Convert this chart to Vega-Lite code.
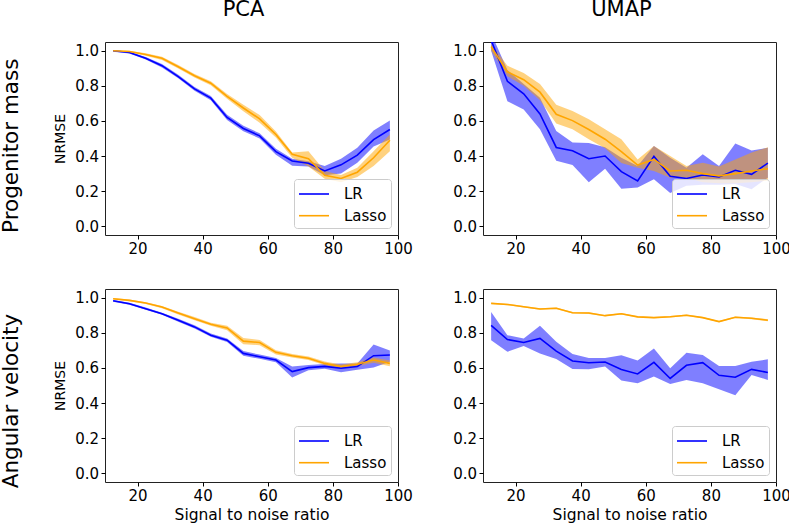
{
"$schema": "https://vega.github.io/schema/vega-lite/v6.json",
"padding": {"left": 0, "top": -2, "right": 0, "bottom": 0},
"background": "white",
"config": {
  "font": "DejaVu Sans",
  "view": {"stroke": "#222", "strokeWidth": 1},
  "axis": {"domain": false, "grid": false, "tickColor": "#000", "tickSize": 4, "tickWidth": 1, "labelColor": "#000", "labelFontSize": 15, "labelFont": "DejaVu Sans", "titleFont": "DejaVu Sans", "titleFontWeight": "normal", "titleColor": "#000", "labelPadding": 2.5, "labelFlush": false, "labelOverlap": false, "labelBound": false, "tickCount": 12},
  "axisY": {"titleFontSize": 14, "titlePadding": 7},
  "axisX": {"titleFontSize": 15.5, "titlePadding": 4},
  "legend": {"orient": "bottom-right", "offset": 7, "padding": 4, "strokeColor": "#cccccc", "fillColor": "rgba(255,255,255,0.8)", "cornerRadius": 3, "symbolType": "M-1,0H2", "symbolSize": 400, "symbolStrokeWidth": 1.6, "labelFontSize": 15, "labelFont": "DejaVu Sans", "labelColor": "#000", "labelOffset": 24, "rowPadding": 2.7, "title": null},
  "title": {"font": "DejaVu Sans", "fontSize": 21, "fontWeight": "normal", "color": "#000"}
},
"data": {"values": [
{"r":"P","c":"PCA","m":"LR","x":12.5,"v":1.0,"lo":0.995,"hi":1.003},
{"r":"P","c":"PCA","m":"LR","x":17.5,"v":0.99,"lo":0.985,"hi":0.995},
{"r":"P","c":"PCA","m":"LR","x":22.5,"v":0.957,"lo":0.95,"hi":0.964},
{"r":"P","c":"PCA","m":"LR","x":27.5,"v":0.915,"lo":0.905,"hi":0.925},
{"r":"P","c":"PCA","m":"LR","x":32.5,"v":0.853,"lo":0.843,"hi":0.863},
{"r":"P","c":"PCA","m":"LR","x":37.5,"v":0.783,"lo":0.772,"hi":0.794},
{"r":"P","c":"PCA","m":"LR","x":42.5,"v":0.73,"lo":0.718,"hi":0.742},
{"r":"P","c":"PCA","m":"LR","x":47.5,"v":0.62,"lo":0.605,"hi":0.635},
{"r":"P","c":"PCA","m":"LR","x":52.5,"v":0.557,"lo":0.542,"hi":0.572},
{"r":"P","c":"PCA","m":"LR","x":57.5,"v":0.515,"lo":0.5,"hi":0.53},
{"r":"P","c":"PCA","m":"LR","x":62.5,"v":0.425,"lo":0.408,"hi":0.442},
{"r":"P","c":"PCA","m":"LR","x":67.5,"v":0.372,"lo":0.345,"hi":0.385},
{"r":"P","c":"PCA","m":"LR","x":72.5,"v":0.359,"lo":0.34,"hi":0.37},
{"r":"P","c":"PCA","m":"LR","x":77.5,"v":0.315,"lo":0.29,"hi":0.343},
{"r":"P","c":"PCA","m":"LR","x":82.5,"v":0.35,"lo":0.3,"hi":0.385},
{"r":"P","c":"PCA","m":"LR","x":87.5,"v":0.405,"lo":0.362,"hi":0.447},
{"r":"P","c":"PCA","m":"LR","x":92.5,"v":0.494,"lo":0.455,"hi":0.545},
{"r":"P","c":"PCA","m":"LR","x":97.5,"v":0.551,"lo":0.495,"hi":0.602},
{"r":"P","c":"PCA","m":"Lasso","x":12.5,"v":1.0,"lo":0.997,"hi":1.003},
{"r":"P","c":"PCA","m":"Lasso","x":17.5,"v":0.996,"lo":0.992,"hi":1.0},
{"r":"P","c":"PCA","m":"Lasso","x":22.5,"v":0.979,"lo":0.972,"hi":0.986},
{"r":"P","c":"PCA","m":"Lasso","x":27.5,"v":0.957,"lo":0.948,"hi":0.966},
{"r":"P","c":"PCA","m":"Lasso","x":32.5,"v":0.909,"lo":0.899,"hi":0.919},
{"r":"P","c":"PCA","m":"Lasso","x":37.5,"v":0.858,"lo":0.848,"hi":0.868},
{"r":"P","c":"PCA","m":"Lasso","x":42.5,"v":0.815,"lo":0.803,"hi":0.827},
{"r":"P","c":"PCA","m":"Lasso","x":47.5,"v":0.74,"lo":0.726,"hi":0.754},
{"r":"P","c":"PCA","m":"Lasso","x":52.5,"v":0.674,"lo":0.655,"hi":0.693},
{"r":"P","c":"PCA","m":"Lasso","x":57.5,"v":0.612,"lo":0.59,"hi":0.634},
{"r":"P","c":"PCA","m":"Lasso","x":62.5,"v":0.523,"lo":0.505,"hi":0.54},
{"r":"P","c":"PCA","m":"Lasso","x":67.5,"v":0.41,"lo":0.39,"hi":0.42},
{"r":"P","c":"PCA","m":"Lasso","x":72.5,"v":0.385,"lo":0.34,"hi":0.428},
{"r":"P","c":"PCA","m":"Lasso","x":77.5,"v":0.29,"lo":0.27,"hi":0.315},
{"r":"P","c":"PCA","m":"Lasso","x":82.5,"v":0.272,"lo":0.251,"hi":0.292},
{"r":"P","c":"PCA","m":"Lasso","x":87.5,"v":0.308,"lo":0.28,"hi":0.334},
{"r":"P","c":"PCA","m":"Lasso","x":92.5,"v":0.39,"lo":0.343,"hi":0.428},
{"r":"P","c":"PCA","m":"Lasso","x":97.5,"v":0.49,"lo":0.428,"hi":0.523},
{"r":"P","c":"UMAP","m":"LR","x":12.5,"v":1.06,"lo":1.0,"hi":1.1},
{"r":"P","c":"UMAP","m":"LR","x":17.5,"v":0.826,"lo":0.713,"hi":0.89},
{"r":"P","c":"UMAP","m":"LR","x":22.5,"v":0.755,"lo":0.666,"hi":0.81},
{"r":"P","c":"UMAP","m":"LR","x":27.5,"v":0.64,"lo":0.553,"hi":0.732},
{"r":"P","c":"UMAP","m":"LR","x":32.5,"v":0.449,"lo":0.373,"hi":0.543},
{"r":"P","c":"UMAP","m":"LR","x":37.5,"v":0.43,"lo":0.349,"hi":0.477},
{"r":"P","c":"UMAP","m":"LR","x":42.5,"v":0.385,"lo":0.251,"hi":0.474},
{"r":"P","c":"UMAP","m":"LR","x":47.5,"v":0.4,"lo":0.327,"hi":0.45},
{"r":"P","c":"UMAP","m":"LR","x":52.5,"v":0.311,"lo":0.213,"hi":0.39},
{"r":"P","c":"UMAP","m":"LR","x":57.5,"v":0.258,"lo":0.221,"hi":0.343},
{"r":"P","c":"UMAP","m":"LR","x":62.5,"v":0.398,"lo":0.268,"hi":0.457},
{"r":"P","c":"UMAP","m":"LR","x":67.5,"v":0.285,"lo":0.19,"hi":0.39},
{"r":"P","c":"UMAP","m":"LR","x":72.5,"v":0.272,"lo":0.23,"hi":0.334},
{"r":"P","c":"UMAP","m":"LR","x":77.5,"v":0.292,"lo":0.236,"hi":0.41},
{"r":"P","c":"UMAP","m":"LR","x":82.5,"v":0.281,"lo":0.236,"hi":0.343},
{"r":"P","c":"UMAP","m":"LR","x":87.5,"v":0.319,"lo":0.24,"hi":0.472},
{"r":"P","c":"UMAP","m":"LR","x":92.5,"v":0.296,"lo":0.211,"hi":0.432},
{"r":"P","c":"UMAP","m":"LR","x":97.5,"v":0.36,"lo":0.277,"hi":0.447},
{"r":"P","c":"UMAP","m":"Lasso","x":12.5,"v":1.024,"lo":1.0,"hi":1.04},
{"r":"P","c":"UMAP","m":"Lasso","x":17.5,"v":0.88,"lo":0.855,"hi":0.915},
{"r":"P","c":"UMAP","m":"Lasso","x":22.5,"v":0.835,"lo":0.8,"hi":0.874},
{"r":"P","c":"UMAP","m":"Lasso","x":27.5,"v":0.764,"lo":0.718,"hi":0.81},
{"r":"P","c":"UMAP","m":"Lasso","x":32.5,"v":0.638,"lo":0.585,"hi":0.692},
{"r":"P","c":"UMAP","m":"Lasso","x":37.5,"v":0.602,"lo":0.553,"hi":0.657},
{"r":"P","c":"UMAP","m":"Lasso","x":42.5,"v":0.551,"lo":0.496,"hi":0.61},
{"r":"P","c":"UMAP","m":"Lasso","x":47.5,"v":0.496,"lo":0.445,"hi":0.553},
{"r":"P","c":"UMAP","m":"Lasso","x":52.5,"v":0.425,"lo":0.36,"hi":0.496},
{"r":"P","c":"UMAP","m":"Lasso","x":57.5,"v":0.349,"lo":0.334,"hi":0.381},
{"r":"P","c":"UMAP","m":"Lasso","x":62.5,"v":0.381,"lo":0.315,"hi":0.457},
{"r":"P","c":"UMAP","m":"Lasso","x":67.5,"v":0.315,"lo":0.277,"hi":0.4},
{"r":"P","c":"UMAP","m":"Lasso","x":72.5,"v":0.319,"lo":0.277,"hi":0.343},
{"r":"P","c":"UMAP","m":"Lasso","x":77.5,"v":0.3,"lo":0.25,"hi":0.362},
{"r":"P","c":"UMAP","m":"Lasso","x":82.5,"v":0.287,"lo":0.245,"hi":0.34},
{"r":"P","c":"UMAP","m":"Lasso","x":87.5,"v":0.3,"lo":0.245,"hi":0.38},
{"r":"P","c":"UMAP","m":"Lasso","x":92.5,"v":0.315,"lo":0.25,"hi":0.42},
{"r":"P","c":"UMAP","m":"Lasso","x":97.5,"v":0.328,"lo":0.26,"hi":0.45},
{"r":"A","c":"PCA","m":"LR","x":12.5,"v":0.983,"lo":0.978,"hi":0.988},
{"r":"A","c":"PCA","m":"LR","x":17.5,"v":0.966,"lo":0.96,"hi":0.972},
{"r":"A","c":"PCA","m":"LR","x":22.5,"v":0.938,"lo":0.932,"hi":0.944},
{"r":"A","c":"PCA","m":"LR","x":27.5,"v":0.909,"lo":0.903,"hi":0.915},
{"r":"A","c":"PCA","m":"LR","x":32.5,"v":0.872,"lo":0.864,"hi":0.88},
{"r":"A","c":"PCA","m":"LR","x":37.5,"v":0.834,"lo":0.825,"hi":0.843},
{"r":"A","c":"PCA","m":"LR","x":42.5,"v":0.787,"lo":0.778,"hi":0.796},
{"r":"A","c":"PCA","m":"LR","x":47.5,"v":0.758,"lo":0.748,"hi":0.768},
{"r":"A","c":"PCA","m":"LR","x":52.5,"v":0.683,"lo":0.67,"hi":0.696},
{"r":"A","c":"PCA","m":"LR","x":57.5,"v":0.664,"lo":0.652,"hi":0.676},
{"r":"A","c":"PCA","m":"LR","x":62.5,"v":0.645,"lo":0.633,"hi":0.657},
{"r":"A","c":"PCA","m":"LR","x":67.5,"v":0.579,"lo":0.545,"hi":0.608},
{"r":"A","c":"PCA","m":"LR","x":72.5,"v":0.602,"lo":0.587,"hi":0.617},
{"r":"A","c":"PCA","m":"LR","x":77.5,"v":0.609,"lo":0.595,"hi":0.623},
{"r":"A","c":"PCA","m":"LR","x":82.5,"v":0.598,"lo":0.575,"hi":0.626},
{"r":"A","c":"PCA","m":"LR","x":87.5,"v":0.608,"lo":0.59,"hi":0.626},
{"r":"A","c":"PCA","m":"LR","x":92.5,"v":0.67,"lo":0.602,"hi":0.734},
{"r":"A","c":"PCA","m":"LR","x":97.5,"v":0.674,"lo":0.636,"hi":0.7},
{"r":"A","c":"PCA","m":"Lasso","x":12.5,"v":0.994,"lo":0.99,"hi":0.998},
{"r":"A","c":"PCA","m":"Lasso","x":17.5,"v":0.985,"lo":0.98,"hi":0.99},
{"r":"A","c":"PCA","m":"Lasso","x":22.5,"v":0.97,"lo":0.965,"hi":0.975},
{"r":"A","c":"PCA","m":"Lasso","x":27.5,"v":0.947,"lo":0.941,"hi":0.953},
{"r":"A","c":"PCA","m":"Lasso","x":32.5,"v":0.913,"lo":0.905,"hi":0.921},
{"r":"A","c":"PCA","m":"Lasso","x":37.5,"v":0.881,"lo":0.872,"hi":0.89},
{"r":"A","c":"PCA","m":"Lasso","x":42.5,"v":0.849,"lo":0.84,"hi":0.858},
{"r":"A","c":"PCA","m":"Lasso","x":47.5,"v":0.828,"lo":0.815,"hi":0.841},
{"r":"A","c":"PCA","m":"Lasso","x":52.5,"v":0.753,"lo":0.735,"hi":0.771},
{"r":"A","c":"PCA","m":"Lasso","x":57.5,"v":0.745,"lo":0.73,"hi":0.76},
{"r":"A","c":"PCA","m":"Lasso","x":62.5,"v":0.689,"lo":0.677,"hi":0.701},
{"r":"A","c":"PCA","m":"Lasso","x":67.5,"v":0.67,"lo":0.66,"hi":0.68},
{"r":"A","c":"PCA","m":"Lasso","x":72.5,"v":0.655,"lo":0.645,"hi":0.665},
{"r":"A","c":"PCA","m":"Lasso","x":77.5,"v":0.626,"lo":0.615,"hi":0.637},
{"r":"A","c":"PCA","m":"Lasso","x":82.5,"v":0.608,"lo":0.597,"hi":0.619},
{"r":"A","c":"PCA","m":"Lasso","x":87.5,"v":0.621,"lo":0.61,"hi":0.632},
{"r":"A","c":"PCA","m":"Lasso","x":92.5,"v":0.645,"lo":0.63,"hi":0.66},
{"r":"A","c":"PCA","m":"Lasso","x":97.5,"v":0.626,"lo":0.61,"hi":0.642},
{"r":"A","c":"UMAP","m":"LR","x":12.5,"v":0.843,"lo":0.758,"hi":0.919},
{"r":"A","c":"UMAP","m":"LR","x":17.5,"v":0.762,"lo":0.692,"hi":0.787},
{"r":"A","c":"UMAP","m":"LR","x":22.5,"v":0.745,"lo":0.725,"hi":0.768},
{"r":"A","c":"UMAP","m":"LR","x":27.5,"v":0.768,"lo":0.683,"hi":0.84},
{"r":"A","c":"UMAP","m":"LR","x":32.5,"v":0.696,"lo":0.651,"hi":0.749},
{"r":"A","c":"UMAP","m":"LR","x":37.5,"v":0.64,"lo":0.594,"hi":0.679},
{"r":"A","c":"UMAP","m":"LR","x":42.5,"v":0.63,"lo":0.592,"hi":0.657},
{"r":"A","c":"UMAP","m":"LR","x":47.5,"v":0.634,"lo":0.608,"hi":0.657},
{"r":"A","c":"UMAP","m":"LR","x":52.5,"v":0.591,"lo":0.528,"hi":0.672},
{"r":"A","c":"UMAP","m":"LR","x":57.5,"v":0.566,"lo":0.513,"hi":0.642},
{"r":"A","c":"UMAP","m":"LR","x":62.5,"v":0.632,"lo":0.551,"hi":0.711},
{"r":"A","c":"UMAP","m":"LR","x":67.5,"v":0.54,"lo":0.508,"hi":0.598},
{"r":"A","c":"UMAP","m":"LR","x":72.5,"v":0.615,"lo":0.532,"hi":0.687},
{"r":"A","c":"UMAP","m":"LR","x":77.5,"v":0.63,"lo":0.513,"hi":0.674},
{"r":"A","c":"UMAP","m":"LR","x":82.5,"v":0.558,"lo":0.479,"hi":0.611},
{"r":"A","c":"UMAP","m":"LR","x":87.5,"v":0.547,"lo":0.444,"hi":0.611},
{"r":"A","c":"UMAP","m":"LR","x":92.5,"v":0.592,"lo":0.56,"hi":0.636},
{"r":"A","c":"UMAP","m":"LR","x":97.5,"v":0.574,"lo":0.532,"hi":0.649},
{"r":"A","c":"UMAP","m":"Lasso","x":12.5,"v":0.968,"lo":0.964,"hi":0.972},
{"r":"A","c":"UMAP","m":"Lasso","x":17.5,"v":0.962,"lo":0.958,"hi":0.966},
{"r":"A","c":"UMAP","m":"Lasso","x":22.5,"v":0.949,"lo":0.945,"hi":0.953},
{"r":"A","c":"UMAP","m":"Lasso","x":27.5,"v":0.936,"lo":0.932,"hi":0.94},
{"r":"A","c":"UMAP","m":"Lasso","x":32.5,"v":0.94,"lo":0.936,"hi":0.944},
{"r":"A","c":"UMAP","m":"Lasso","x":37.5,"v":0.915,"lo":0.911,"hi":0.919},
{"r":"A","c":"UMAP","m":"Lasso","x":42.5,"v":0.913,"lo":0.908,"hi":0.918},
{"r":"A","c":"UMAP","m":"Lasso","x":47.5,"v":0.898,"lo":0.894,"hi":0.902},
{"r":"A","c":"UMAP","m":"Lasso","x":52.5,"v":0.909,"lo":0.905,"hi":0.913},
{"r":"A","c":"UMAP","m":"Lasso","x":57.5,"v":0.891,"lo":0.887,"hi":0.895},
{"r":"A","c":"UMAP","m":"Lasso","x":62.5,"v":0.887,"lo":0.883,"hi":0.891},
{"r":"A","c":"UMAP","m":"Lasso","x":67.5,"v":0.892,"lo":0.888,"hi":0.896},
{"r":"A","c":"UMAP","m":"Lasso","x":72.5,"v":0.9,"lo":0.896,"hi":0.904},
{"r":"A","c":"UMAP","m":"Lasso","x":77.5,"v":0.887,"lo":0.883,"hi":0.891},
{"r":"A","c":"UMAP","m":"Lasso","x":82.5,"v":0.864,"lo":0.86,"hi":0.868},
{"r":"A","c":"UMAP","m":"Lasso","x":87.5,"v":0.889,"lo":0.885,"hi":0.893},
{"r":"A","c":"UMAP","m":"Lasso","x":92.5,"v":0.883,"lo":0.878,"hi":0.888},
{"r":"A","c":"UMAP","m":"Lasso","x":97.5,"v":0.872,"lo":0.866,"hi":0.878}
]},
"spacing": 31,
"resolve": {"scale": {"stroke": "independent"}, "legend": {"stroke": "independent"}},
"vconcat": [
 {
  "title": {"text": "Progenitor mass", "orient": "left", "anchor": "middle", "offset": 31, "fontSize": 21.5, "dx": -18},
  "spacing": 39,
  "resolve": {"scale": {"stroke": "independent"}, "legend": {"stroke": "independent"}},
  "hconcat": [
   {
    "width": 293, "height": 193,
    "title": {"text": "PCA", "dx": -8, "offset": 22},
    "transform": [{"filter": "datum.r == 'P' && datum.c == 'PCA'"}],
    "layer": [
     {"transform": [{"filter": "datum.m == 'LR'"}],
      "mark": {"type": "area", "opacity": 0.5, "clip": true, "color": "#0000ff"},
      "encoding": {"x": {"field": "x", "type": "quantitative", "scale": {"domain": [10, 100], "nice": false}, "axis": {"values": [20, 40, 60, 80, 100], "title": null, "tickCount": 12}},
       "y": {"field": "lo", "type": "quantitative", "scale": {"domain": [-0.05, 1.05], "nice": false, "zero": false}, "axis": {"values": [0, 0.2, 0.4, 0.6, 0.8, 1.0], "format": ".1f", "title": "NRMSE", "tickCount": 12}},
       "y2": {"field": "hi"}}},
     {"transform": [{"filter": "datum.m == 'Lasso'"}],
      "mark": {"type": "area", "opacity": 0.5, "clip": true, "color": "#ffa500"},
      "encoding": {"x": {"field": "x", "type": "quantitative"}, "y": {"field": "lo", "type": "quantitative"}, "y2": {"field": "hi"}}},
     {"mark": {"type": "line", "strokeWidth": 1.6, "clip": true},
      "encoding": {"x": {"field": "x", "type": "quantitative"},
       "y": {"field": "v", "type": "quantitative"},
       "stroke": {"field": "m", "type": "nominal", "scale": {"domain": ["LR", "Lasso"], "range": ["#0000ff", "#ffa500"]}}}}
    ]
   },
   {
    "width": 293, "height": 193,
    "title": {"text": "UMAP", "dx": -8, "offset": 22},
    "transform": [{"filter": "datum.r == 'P' && datum.c == 'UMAP'"}],
    "layer": [
     {"transform": [{"filter": "datum.m == 'LR'"}],
      "mark": {"type": "area", "opacity": 0.5, "clip": true, "color": "#0000ff"},
      "encoding": {"x": {"field": "x", "type": "quantitative", "scale": {"domain": [10, 100], "nice": false}, "axis": {"values": [20, 40, 60, 80, 100], "title": null, "tickCount": 12}},
       "y": {"field": "lo", "type": "quantitative", "scale": {"domain": [-0.05, 1.05], "nice": false, "zero": false}, "axis": {"values": [0, 0.2, 0.4, 0.6, 0.8, 1.0], "format": ".1f", "title": null, "tickCount": 12}},
       "y2": {"field": "hi"}}},
     {"transform": [{"filter": "datum.m == 'Lasso'"}],
      "mark": {"type": "area", "opacity": 0.5, "clip": true, "color": "#ffa500"},
      "encoding": {"x": {"field": "x", "type": "quantitative"}, "y": {"field": "lo", "type": "quantitative"}, "y2": {"field": "hi"}}},
     {"mark": {"type": "line", "strokeWidth": 1.6, "clip": true},
      "encoding": {"x": {"field": "x", "type": "quantitative"},
       "y": {"field": "v", "type": "quantitative"},
       "stroke": {"field": "m", "type": "nominal", "scale": {"domain": ["LR", "Lasso"], "range": ["#0000ff", "#ffa500"]}}}}
    ]
   }
  ]
 },
 {
  "title": {"text": "Angular velocity", "orient": "left", "anchor": "middle", "offset": 31, "fontSize": 21.5, "dx": 5},
  "spacing": 39,
  "resolve": {"scale": {"stroke": "independent"}, "legend": {"stroke": "independent"}},
  "hconcat": [
   {
    "width": 293, "height": 193,
    "transform": [{"filter": "datum.r == 'A' && datum.c == 'PCA'"}],
    "layer": [
     {"transform": [{"filter": "datum.m == 'LR'"}],
      "mark": {"type": "area", "opacity": 0.5, "clip": true, "color": "#0000ff"},
      "encoding": {"x": {"field": "x", "type": "quantitative", "scale": {"domain": [10, 100], "nice": false}, "axis": {"values": [20, 40, 60, 80, 100], "title": "Signal to noise ratio", "tickCount": 12}},
       "y": {"field": "lo", "type": "quantitative", "scale": {"domain": [-0.05, 1.05], "nice": false, "zero": false}, "axis": {"values": [0, 0.2, 0.4, 0.6, 0.8, 1.0], "format": ".1f", "title": "NRMSE", "tickCount": 12}},
       "y2": {"field": "hi"}}},
     {"transform": [{"filter": "datum.m == 'Lasso'"}],
      "mark": {"type": "area", "opacity": 0.5, "clip": true, "color": "#ffa500"},
      "encoding": {"x": {"field": "x", "type": "quantitative"}, "y": {"field": "lo", "type": "quantitative"}, "y2": {"field": "hi"}}},
     {"mark": {"type": "line", "strokeWidth": 1.6, "clip": true},
      "encoding": {"x": {"field": "x", "type": "quantitative"},
       "y": {"field": "v", "type": "quantitative"},
       "stroke": {"field": "m", "type": "nominal", "scale": {"domain": ["LR", "Lasso"], "range": ["#0000ff", "#ffa500"]}}}}
    ]
   },
   {
    "width": 293, "height": 193,
    "transform": [{"filter": "datum.r == 'A' && datum.c == 'UMAP'"}],
    "layer": [
     {"transform": [{"filter": "datum.m == 'LR'"}],
      "mark": {"type": "area", "opacity": 0.5, "clip": true, "color": "#0000ff"},
      "encoding": {"x": {"field": "x", "type": "quantitative", "scale": {"domain": [10, 100], "nice": false}, "axis": {"values": [20, 40, 60, 80, 100], "title": "Signal to noise ratio", "tickCount": 12}},
       "y": {"field": "lo", "type": "quantitative", "scale": {"domain": [-0.05, 1.05], "nice": false, "zero": false}, "axis": {"values": [0, 0.2, 0.4, 0.6, 0.8, 1.0], "format": ".1f", "title": null, "tickCount": 12}},
       "y2": {"field": "hi"}}},
     {"transform": [{"filter": "datum.m == 'Lasso'"}],
      "mark": {"type": "area", "opacity": 0.5, "clip": true, "color": "#ffa500"},
      "encoding": {"x": {"field": "x", "type": "quantitative"}, "y": {"field": "lo", "type": "quantitative"}, "y2": {"field": "hi"}}},
     {"mark": {"type": "line", "strokeWidth": 1.6, "clip": true},
      "encoding": {"x": {"field": "x", "type": "quantitative"},
       "y": {"field": "v", "type": "quantitative"},
       "stroke": {"field": "m", "type": "nominal", "scale": {"domain": ["LR", "Lasso"], "range": ["#0000ff", "#ffa500"]}}}}
    ]
   }
  ]
 }
]
}
